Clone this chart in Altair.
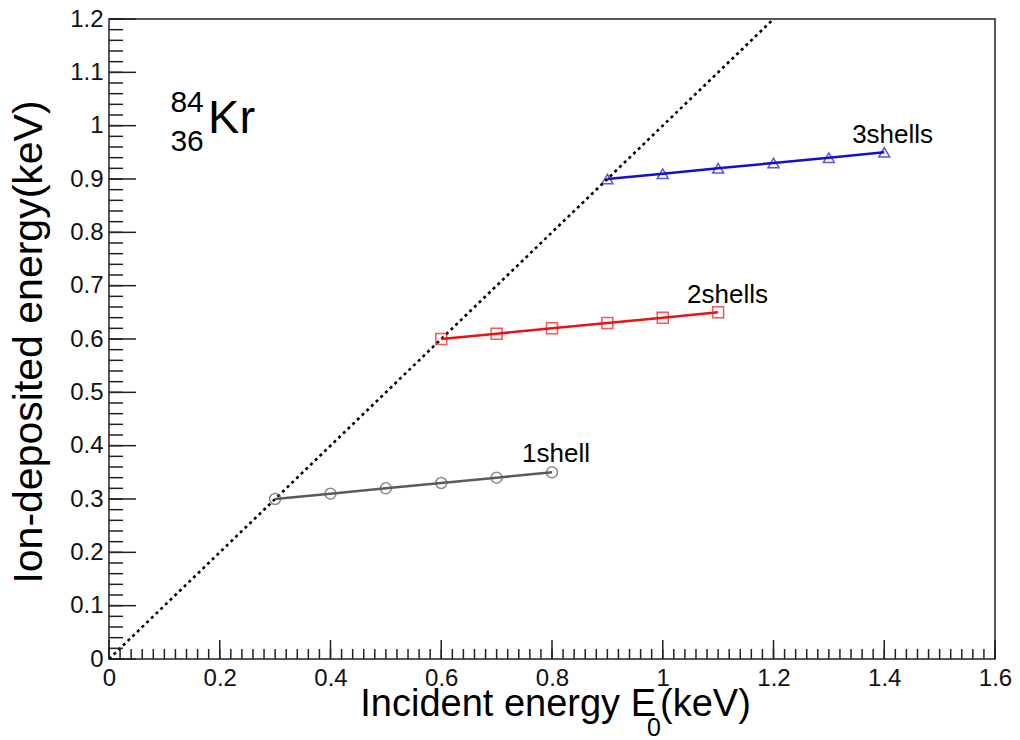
import altair as alt
import pandas as pd

# ---- data ----
shell1_x = [0.3, 0.4, 0.5, 0.6, 0.7, 0.8]
shell1_y = [0.30, 0.31, 0.32, 0.33, 0.34, 0.35]
shell2_x = [0.6, 0.7, 0.8, 0.9, 1.0, 1.1]
shell2_y = [0.60, 0.61, 0.62, 0.63, 0.64, 0.65]
shell3_x = [0.9, 1.0, 1.1, 1.2, 1.3, 1.4]
shell3_y = [0.90, 0.91, 0.92, 0.93, 0.94, 0.95]
series_names = ["1shell", "2shells", "3shells"]
series_colors = ["#5a5a5a", "#ee1111", "#1111cc"]
series_shapes = ["circle", "square", "triangle-up"]

diag_x = [0.0, 1.2]
diag_y = [0.0, 1.2]

label_x = [0.746, 1.044, 1.342]
label_y = [0.369, 0.6675, 0.9675]

x_major = [0, 0.2, 0.4, 0.6, 0.8, 1.0, 1.2, 1.4, 1.6]
y_major = [0, 0.1, 0.2, 0.3, 0.4, 0.5, 0.6, 0.7, 0.8, 0.9, 1.0, 1.1, 1.2]
x_minor = [round(i * 0.02, 2) for i in range(81)]
y_minor = [round(i * 0.02, 2) for i in range(61)]

W, H = 886, 640
FONT = "Liberation Sans"

rows = []
for name, xs_, ys_ in zip(series_names, [shell1_x, shell2_x, shell3_x], [shell1_y, shell2_y, shell3_y]):
    for a, b in zip(xs_, ys_):
        rows.append({"series": name, "x": a, "y": b})
df = pd.DataFrame(rows)
diag = pd.DataFrame({"x": diag_x, "y": diag_y})
labels = pd.DataFrame({"series": series_names, "x": label_x, "y": label_y})

xs = alt.Scale(domain=[0, 1.6], nice=False, zero=False)
ys = alt.Scale(domain=[0, 1.2], nice=False, zero=False)
color = alt.Color("series:N", scale=alt.Scale(domain=series_names, range=series_colors), legend=None)
shape = alt.Shape("series:N", scale=alt.Scale(domain=series_names, range=series_shapes), legend=None)

xaxis = alt.Axis(values=x_major, format="~g", title=None, ticks=False, tickSize=0, domain=False,
                 grid=False, labelFontSize=24, labelFont=FONT, labelColor="#111", labelPadding=7,
                 labelFlush=False)
yaxis = alt.Axis(values=y_major, format="~g", title=None, ticks=False, tickSize=0, domain=False,
                 grid=False, labelFontSize=24, labelFont=FONT, labelColor="#111", labelPadding=6)

base_x = alt.X("x:Q", scale=xs, axis=xaxis)
base_y = alt.Y("y:Q", scale=ys, axis=yaxis)

diag_line = alt.Chart(diag).mark_line(color="black", strokeWidth=2.6, strokeDash=[3, 3.5]).encode(
    x=base_x, y=base_y)

lines = alt.Chart(df).mark_line(strokeWidth=2.5).encode(
    x=alt.X("x:Q", scale=xs), y=alt.Y("y:Q", scale=ys), color=color, detail="series:N")

points = alt.Chart(df).mark_point(filled=False, size=120, strokeWidth=1.5).encode(
    x=alt.X("x:Q", scale=xs), y=alt.Y("y:Q", scale=ys), color=color, shape=shape)

texts = alt.Chart(labels).mark_text(align="left", baseline="alphabetic", fontSize=26,
                                    font=FONT, color="black").encode(
    x=alt.X("x:Q", scale=xs), y=alt.Y("y:Q", scale=ys), text="series:N")

# inward ROOT-style ticks
tick_color = "#222"
xmaj = alt.Chart(pd.DataFrame({"v": x_major})).mark_rule(color=tick_color, strokeWidth=1.5).encode(
    x=alt.X("v:Q", scale=xs), y=alt.value(H), y2=alt.value(H - 19))
xmin = alt.Chart(pd.DataFrame({"v": x_minor})).mark_rule(color=tick_color, strokeWidth=1.5).encode(
    x=alt.X("v:Q", scale=xs), y=alt.value(H), y2=alt.value(H - 10))
ymaj = alt.Chart(pd.DataFrame({"v": y_major})).mark_rule(color=tick_color, strokeWidth=1.5).encode(
    y=alt.Y("v:Q", scale=ys), x=alt.value(0), x2=alt.value(27))
ymin = alt.Chart(pd.DataFrame({"v": y_minor})).mark_rule(color=tick_color, strokeWidth=1.5).encode(
    y=alt.Y("v:Q", scale=ys), x=alt.value(0), x2=alt.value(14))

# nuclide annotation
kr_x = [0.179]
kr_y = [0.986]
iso_x = [0.141, 0.141]
iso_y = [1.0425, 0.969]
iso_text = ["84", "36"]
kr = alt.Chart(pd.DataFrame({"x": kr_x, "y": kr_y, "t": ["Kr"]})).mark_text(
    align="left", baseline="alphabetic", fontSize=47, font=FONT, color="black").encode(
    x=alt.X("x:Q", scale=xs), y=alt.Y("y:Q", scale=ys), text="t:N")
iso = alt.Chart(pd.DataFrame({"x": iso_x, "y": iso_y, "t": iso_text})).mark_text(
    align="center", baseline="middle", fontSize=30, font=FONT, color="black").encode(
    x=alt.X("x:Q", scale=xs), y=alt.Y("y:Q", scale=ys), text="t:N")

# axis titles (with subscript)
xt1 = alt.Chart(pd.DataFrame({"t": ["Incident energy E"]})).mark_text(
    align="right", baseline="alphabetic", fontSize=38, font=FONT, color="black").encode(
    x=alt.value(547), y=alt.value(697), text="t:N")
xt2 = alt.Chart(pd.DataFrame({"t": ["0"]})).mark_text(
    align="left", baseline="alphabetic", fontSize=25, font=FONT, color="black").encode(
    x=alt.value(538), y=alt.value(717), text="t:N")
xt3 = alt.Chart(pd.DataFrame({"t": ["(keV)"]})).mark_text(
    align="left", baseline="alphabetic", fontSize=38, font=FONT, color="black").encode(
    x=alt.value(551), y=alt.value(697), text="t:N")
yt = alt.Chart(pd.DataFrame({"t": ["Ion-deposited energy(keV)"]})).mark_text(
    align="center", baseline="alphabetic", angle=270, fontSize=41, font=FONT, color="black").encode(
    x=alt.value(-67), y=alt.value(323), text="t:N")

chart = alt.layer(
    diag_line, lines, points, texts, xmaj, xmin, ymaj, ymin, kr, iso, xt1, xt2, xt3, yt
).properties(
    width=W, height=H,
    autosize=alt.AutoSizeParams(type="none"),
    padding={"left": 109, "top": 19, "right": 25, "bottom": 81},
    background="white",
).configure_view(stroke="#222", strokeWidth=1.5)

chart.save("out.html", embed_options={"renderer": "svg", "actions": False})
